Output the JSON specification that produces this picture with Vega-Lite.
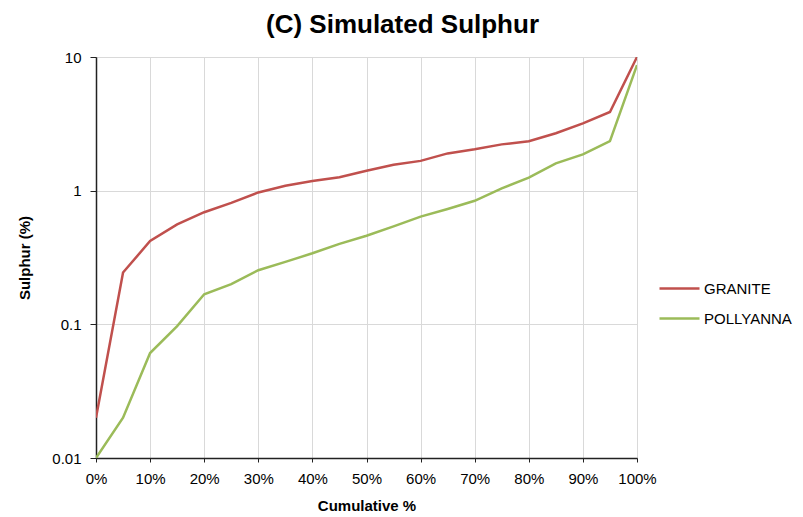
{
  "$schema": "https://vega.github.io/schema/vega-lite/v6.json",
  "width": 541,
  "height": 401,
  "autosize": {"type": "none"},
  "padding": {"left": 96, "top": 57, "right": 166, "bottom": 59},
  "background": "white",
  "config": {
    "font": "Liberation Sans",
    "view": {"stroke": "#404040", "strokeWidth": 1},
    "axis": {"labelFont": "Liberation Sans", "titleFont": "Liberation Sans"}
  },
  "title": {
    "text": "(C) Simulated Sulphur",
    "fontSize": 26,
    "fontWeight": "bold",
    "font": "Liberation Sans",
    "color": "black",
    "anchor": "middle",
    "dx": 36,
    "offset": 12
  },
  "data": {
    "values": [
      {"pct": 0, "s": "GRANITE", "v": 0.020},
      {"pct": 5, "s": "GRANITE", "v": 0.244},
      {"pct": 10, "s": "GRANITE", "v": 0.42},
      {"pct": 15, "s": "GRANITE", "v": 0.56},
      {"pct": 20, "s": "GRANITE", "v": 0.69},
      {"pct": 25, "s": "GRANITE", "v": 0.81},
      {"pct": 30, "s": "GRANITE", "v": 0.97},
      {"pct": 35, "s": "GRANITE", "v": 1.09},
      {"pct": 40, "s": "GRANITE", "v": 1.18},
      {"pct": 45, "s": "GRANITE", "v": 1.26},
      {"pct": 50, "s": "GRANITE", "v": 1.41},
      {"pct": 55, "s": "GRANITE", "v": 1.56},
      {"pct": 60, "s": "GRANITE", "v": 1.67},
      {"pct": 65, "s": "GRANITE", "v": 1.9},
      {"pct": 70, "s": "GRANITE", "v": 2.04},
      {"pct": 75, "s": "GRANITE", "v": 2.22},
      {"pct": 80, "s": "GRANITE", "v": 2.34},
      {"pct": 85, "s": "GRANITE", "v": 2.69},
      {"pct": 90, "s": "GRANITE", "v": 3.19},
      {"pct": 95, "s": "GRANITE", "v": 3.88},
      {"pct": 100, "s": "GRANITE", "v": 10},
      {"pct": 0, "s": "POLLYANNA", "v": 0.010},
      {"pct": 5, "s": "POLLYANNA", "v": 0.020},
      {"pct": 10, "s": "POLLYANNA", "v": 0.061},
      {"pct": 15, "s": "POLLYANNA", "v": 0.097},
      {"pct": 20, "s": "POLLYANNA", "v": 0.168},
      {"pct": 25, "s": "POLLYANNA", "v": 0.20},
      {"pct": 30, "s": "POLLYANNA", "v": 0.254},
      {"pct": 35, "s": "POLLYANNA", "v": 0.293},
      {"pct": 40, "s": "POLLYANNA", "v": 0.34},
      {"pct": 45, "s": "POLLYANNA", "v": 0.40},
      {"pct": 50, "s": "POLLYANNA", "v": 0.46},
      {"pct": 55, "s": "POLLYANNA", "v": 0.54},
      {"pct": 60, "s": "POLLYANNA", "v": 0.64},
      {"pct": 65, "s": "POLLYANNA", "v": 0.73},
      {"pct": 70, "s": "POLLYANNA", "v": 0.84},
      {"pct": 75, "s": "POLLYANNA", "v": 1.04},
      {"pct": 80, "s": "POLLYANNA", "v": 1.25},
      {"pct": 85, "s": "POLLYANNA", "v": 1.6},
      {"pct": 90, "s": "POLLYANNA", "v": 1.87},
      {"pct": 95, "s": "POLLYANNA", "v": 2.35},
      {"pct": 100, "s": "POLLYANNA", "v": 8.7}
    ]
  },
  "mark": {"type": "line", "strokeWidth": 2.5, "clip": true},
  "encoding": {
    "x": {
      "field": "pct",
      "type": "quantitative",
      "scale": {"domain": [0, 100], "nice": false, "zero": true},
      "axis": {
        "title": "Cumulative %",
        "titleFontSize": 15,
        "titleFontWeight": "bold",
        "titleColor": "black",
        "titlePadding": 12,
        "values": [0, 10, 20, 30, 40, 50, 60, 70, 80, 90, 100],
        "labelExpr": "datum.value + '%'",
        "labelFontSize": 15,
        "labelColor": "black",
        "labelPadding": 9,
        "labelFlush": false,
        "labelOverlap": false,
        "labelBound": false,
        "domainColor": "#222",
        "domainWidth": 1.5,
        "tickColor": "#222",
        "tickSize": 4,
        "gridColor": "#d9d9d9",
        "gridWidth": 1
      }
    },
    "y": {
      "field": "v",
      "type": "quantitative",
      "scale": {"type": "log", "domain": [0.01, 10], "nice": false},
      "axis": {
        "title": "Sulphur (%)",
        "titleFontSize": 15,
        "titleFontWeight": "bold",
        "titleColor": "black",
        "titlePadding": 19,
        "values": [0.01, 0.1, 1, 10],
        "labelExpr": "datum.value >= 1 ? format(datum.value, 'd') : format(datum.value, '.2~f')",
        "labelFontSize": 15,
        "labelColor": "black",
        "labelPadding": 9,
        "labelFlush": false,
        "labelOverlap": false,
        "domainColor": "#222",
        "domainWidth": 1.5,
        "tickColor": "#222",
        "tickSize": 6,
        "gridColor": "#d9d9d9",
        "gridWidth": 1
      }
    },
    "color": {
      "field": "s",
      "type": "nominal",
      "scale": {"domain": ["GRANITE", "POLLYANNA"], "range": ["#C0504D", "#9BBB59"]},
      "legend": {
        "title": null,
        "orient": "none",
        "legendX": 562,
        "legendY": 210,
        "symbolType": "stroke",
        "symbolSize": 1600,
        "symbolStrokeWidth": 2.5,
        "labelFontSize": 15,
        "labelColor": "black",
        "labelOffset": 3,
        "rowPadding": -10
      }
    }
  }
}
